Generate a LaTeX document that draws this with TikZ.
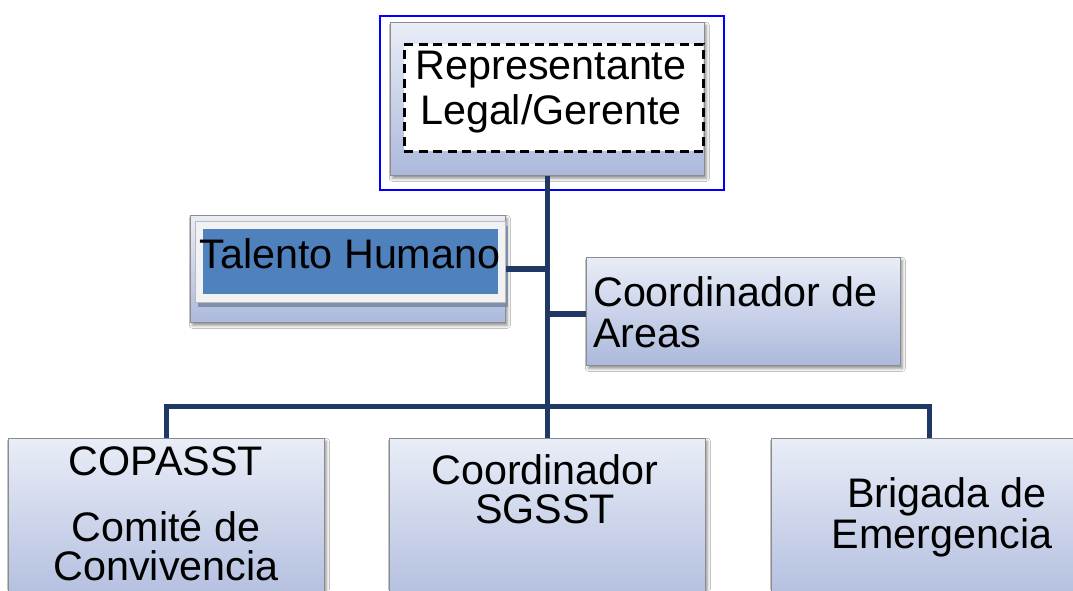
\documentclass[tikz,border=0pt]{standalone}
\usepackage{fontspec}
\setmainfont{Liberation Sans}
\usetikzlibrary{shadows,shadows.blur}
\definecolor{navy}{RGB}{31,56,100}
\definecolor{gtop}{RGB}{233,237,247}
\definecolor{gbot}{RGB}{172,185,220}
\definecolor{boxedge}{RGB}{140,140,140}
\definecolor{tblue}{RGB}{79,129,189}
\definecolor{thlight}{RGB}{242,242,244}
\definecolor{thshadow}{RGB}{120,135,165}
\tikzset{
  gbox/.style={draw=boxedge, line width=0.8pt, top color=gtop, bottom color=gbot,
    inner sep=0pt, anchor=north west,
    blur shadow={shadow xshift=2pt, shadow yshift=-3pt, shadow blur radius=3pt, shadow opacity=45}},
  lbl/.style={font=\fontsize{41.3}{45}\selectfont, inner sep=0pt, anchor=base},
  conn/.style={draw=navy, line width=5.5pt}
}
\begin{document}
\begin{tikzpicture}[x=1pt,y=-1pt]
\clip (0,0) rectangle (1073,590);
\fill[white] (0,0) rectangle (1073,590);
% top
\node[draw=blue, line width=1.5pt, minimum width=344pt, minimum height=174pt, anchor=north west, inner sep=0pt] (frame) at (379,15) {};
\node[gbox, minimum width=314pt, minimum height=153pt] (rep) at (390,22) {};
\node[draw=black, fill=white, line width=2.8pt, dash pattern=on 9pt off 5.5pt, minimum width=299pt, minimum height=107pt, anchor=north west, inner sep=0pt] (repin) at (403,43) {};
\node[lbl] (rep1) at (551,79) {Representante};
\node[lbl] (rep2) at (551,124) {Legal/Gerente};
% talento humano
\node[gbox, minimum width=315pt, minimum height=107pt] (th) at (190,215) {};
\node[fill=thlight, draw=boxedge!60, line width=0.5pt, anchor=north west, minimum width=310pt, minimum height=81pt, inner sep=0pt,
  drop shadow={shadow xshift=3pt, shadow yshift=-5pt, fill=thshadow, opacity=0.85}] (thin) at (195,221) {};
\node[fill=tblue, anchor=north west, minimum width=295pt, minimum height=65pt, inner sep=0pt] (thblue) at (203,229) {};
\node[lbl] (thtxt) at (350,268) {Talento Humano};
% coordinador de areas
\node[gbox, minimum width=314pt, minimum height=108pt] (areas) at (586,257) {};
\node[lbl, anchor=base west] (ar1) at (593,306) {Coordinador de};
\node[lbl, anchor=base west] (ar2) at (593,347) {Areas};
% bottom boxes
\node[gbox, minimum width=316pt, minimum height=180pt] (cop) at (8,438) {};
\node[gbox, minimum width=316pt, minimum height=180pt] (sgsst) at (389,438) {};
\node[gbox, minimum width=316pt, minimum height=180pt] (brig) at (771,438) {};
\node[lbl] (cop1) at (166,475) {COPASST};
\node[lbl] (cop2) at (166,541) {Comité de};
\node[lbl] (cop3) at (166,580) {Convivencia};
\node[lbl] (sg1) at (545,484) {Coordinador};
\node[lbl] (sg2) at (545,523) {SGSST};
\node[lbl] (br1) at (947,507) {Brigada de};
\node[lbl] (br2) at (942,548) {Emergencia};
% connectors
\coordinate (bus) at (547,406.5);
\draw[conn] (rep.south) -- (sgsst.north);
\draw[conn] (cop.north) |- (bus) -| (brig.north);
\draw[conn] (th.east) -- (th.east -| rep.south);
\draw[conn] ([yshift=-2.5pt]areas.west) -- ([yshift=-2.5pt]areas.west -| rep.south);
\end{tikzpicture}
\end{document}
